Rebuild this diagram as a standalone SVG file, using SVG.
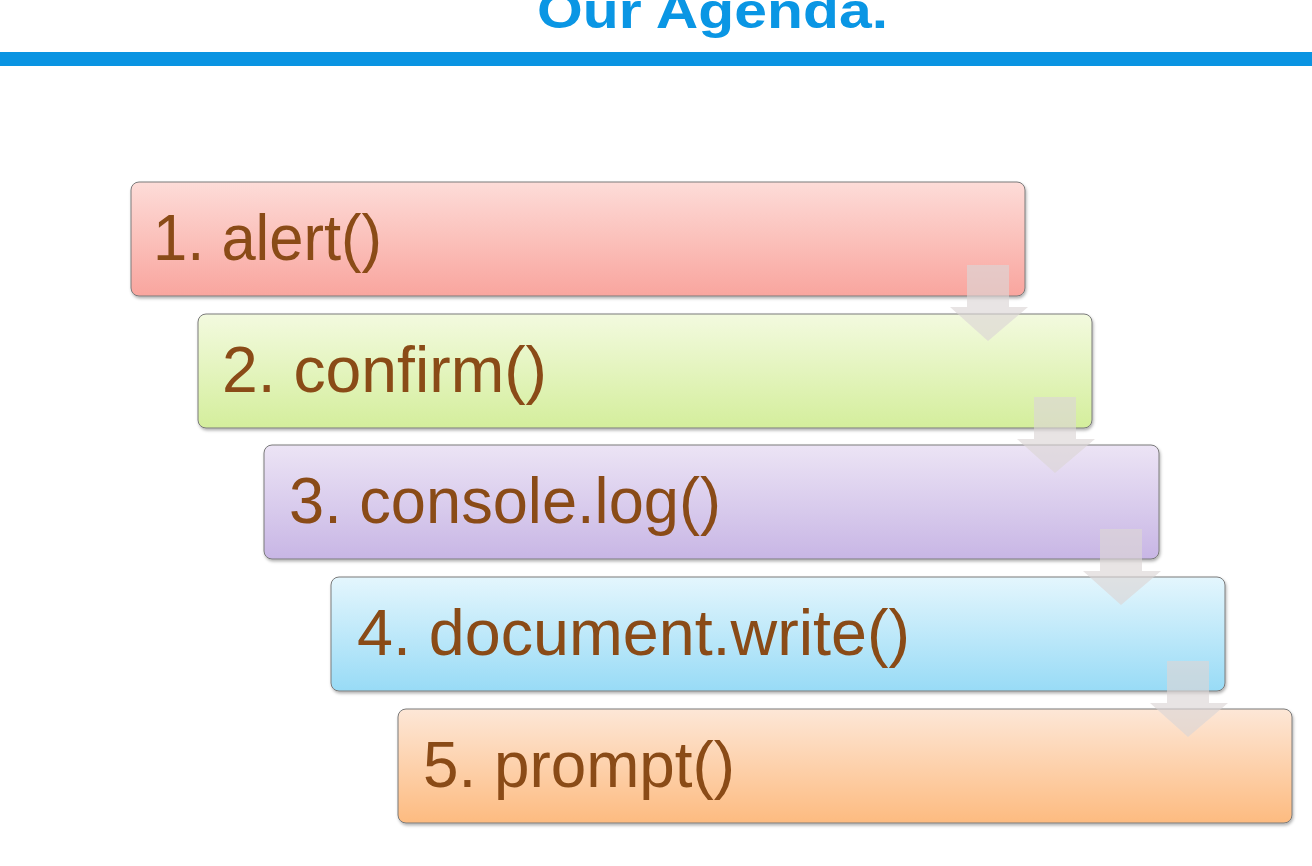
<svg xmlns="http://www.w3.org/2000/svg" width="1312" height="866" viewBox="0 0 1312 866">
  <defs>
    <linearGradient id="gRed" x1="0" y1="0" x2="0" y2="1">
      <stop offset="0" stop-color="#fddcd8"/>
      <stop offset="1" stop-color="#f9a59e"/>
    </linearGradient>
    <linearGradient id="gGreen" x1="0" y1="0" x2="0" y2="1">
      <stop offset="0" stop-color="#f3fadf"/>
      <stop offset="1" stop-color="#d4ee9c"/>
    </linearGradient>
    <linearGradient id="gPurple" x1="0" y1="0" x2="0" y2="1">
      <stop offset="0" stop-color="#ece4f5"/>
      <stop offset="1" stop-color="#c8b6e5"/>
    </linearGradient>
    <linearGradient id="gBlue" x1="0" y1="0" x2="0" y2="1">
      <stop offset="0" stop-color="#e4f6fd"/>
      <stop offset="1" stop-color="#98dbf6"/>
    </linearGradient>
    <linearGradient id="gOrange" x1="0" y1="0" x2="0" y2="1">
      <stop offset="0" stop-color="#fde7d7"/>
      <stop offset="1" stop-color="#fdbb80"/>
    </linearGradient>
    <filter id="shadow" x="-5%" y="-10%" width="110%" height="130%">
      <feDropShadow dx="1" dy="2" stdDeviation="1.5" flood-color="#000" flood-opacity="0.3"/>
    </filter>
  </defs>
  <style>
    .box { stroke: #7a7a7a; stroke-width: 1; filter: url(#shadow); }
    .label { font-family: "Liberation Sans", Arial, sans-serif; font-size: 64px; fill: #8a4b17; }
    .title { font-family: "Liberation Sans", Arial, sans-serif; font-weight: bold; font-size: 50px; fill: #0a96e4; }
    .flow { fill: #dcd5d5; fill-opacity: 0.65; }
  </style>

  <rect width="1312" height="866" fill="#ffffff"/>

  <!-- heading and rule -->
  <text class="title" x="537" y="28" textLength="351" lengthAdjust="spacingAndGlyphs">Our Agenda.</text>
  <rect x="0" y="52" width="1312" height="14" fill="#0a94e2"/>

  <!-- agenda items -->
  <g id="item1">
    <rect class="box" x="131" y="182" width="894" height="114" rx="8" fill="url(#gRed)"/>
    <text class="label" x="153" y="260" textLength="229" lengthAdjust="spacingAndGlyphs">1. alert()</text>
  </g>
  <g id="item2">
    <rect class="box" x="198" y="314" width="894" height="114" rx="8" fill="url(#gGreen)"/>
    <text class="label" x="222" y="392" textLength="325" lengthAdjust="spacingAndGlyphs">2. confirm()</text>
  </g>
  <g id="item3">
    <rect class="box" x="264" y="445" width="895" height="114" rx="8" fill="url(#gPurple)"/>
    <text class="label" x="289" y="523" textLength="432" lengthAdjust="spacingAndGlyphs">3. console.log()</text>
  </g>
  <g id="item4">
    <rect class="box" x="331" y="577" width="894" height="114" rx="8" fill="url(#gBlue)"/>
    <text class="label" x="357" y="655" textLength="553" lengthAdjust="spacingAndGlyphs">4. document.write()</text>
  </g>
  <g id="item5">
    <rect class="box" x="398" y="709" width="894" height="114" rx="8" fill="url(#gOrange)"/>
    <text class="label" x="423" y="787" textLength="312" lengthAdjust="spacingAndGlyphs">5. prompt()</text>
  </g>

  <!-- step arrows between items -->
  <g id="connectors">
    <path class="flow" d="M967,265 H1009 V307 H1028 L988,341 L950,307 H967 Z"/>
    <path class="flow" d="M1034,397 H1076 V439 H1095 L1055,473 L1017,439 H1034 Z"/>
    <path class="flow" d="M1100,529 H1142 V571 H1161 L1121,605 L1083,571 H1100 Z"/>
    <path class="flow" d="M1167,661 H1209 V703 H1228 L1188,737 L1150,703 H1167 Z"/>
  </g>
</svg>
